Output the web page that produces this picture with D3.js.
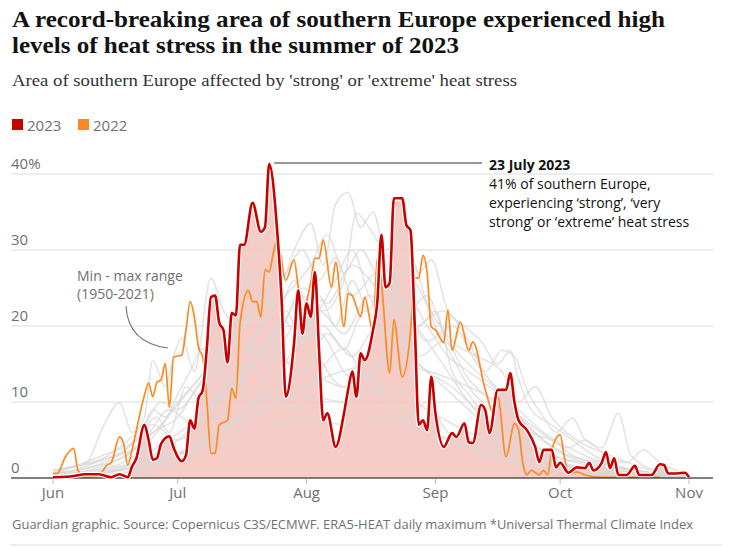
<!DOCTYPE html>
<html>
<head>
<meta charset="utf-8">
<script src="https://cdn.jsdelivr.net/npm/d3@7/dist/d3.min.js"></script>
<style>
  html, body { margin: 0; padding: 0; background: #fff; }
  svg { display: block; }
</style>
</head>
<body>
<svg id="chart" width="755" height="549"></svg>
<script>
// ---------- DATA (day offset from 1 June, % of southern Europe) ----------
const monthTicks = ["2023-06-01", "2023-07-01", "2023-08-01", "2023-09-01", "2023-10-01", "2023-11-01"];
const monthLabels = ["Jun", "Jul", "Aug", "Sep", "Oct", "Nov"];
const yTicks = [0, 10, 20, 30, 40];
const yTickLabels = ["0", "10", "20", "30", "40%"];

const days2023 = [0,4,8,11,14,16,18,19,20,22,23,24,25,26,28,29,31,32,33,34,35,36,37,38,39,40,41,42,43,44,45,46,48,50,51,52,54,55,56,58,59,60,61,62,63,64,65,66,68,70,71,72,73,74,75,77,78,79,80,81,82,84,85,86,87,88,89,90,91,92,94,96,97,99,100,101,103,104,105,107,109,110,111,112,114,116,117,118,120,121,122,124,126,128,129,130,132,133,134,135,136,138,140,141,144,146,147,148,150,152,153];
const values2023 = [0.1,0.2,0.5,0.5,0.1,0.5,0.1,1.5,2.5,7,5,2.4,2.6,4.5,5.5,4,2.2,3,7.6,6.5,10.5,11.5,17,23.8,24,20.4,19.5,15.2,21.7,21.4,30.7,30.7,36.2,32.4,33,41.3,32,23.4,10.7,17.8,24.7,19,23,21.2,27.1,16.8,7.6,8.5,4.1,8.5,11.6,14,10.7,16.4,15.5,19.5,23,32,25.1,25.7,36.8,36.8,33.3,32.6,20.4,7,7.6,6.3,13.3,8.5,4.1,5.9,5.4,7.2,4.7,4.6,9.6,8.9,5.9,11.6,11.6,13.8,10,7.6,6.3,4.1,2.1,3.7,3.7,1.4,2,0.7,1.4,1.3,2,1,2,3.4,1.3,2.6,0.4,0.4,1.6,0.4,0.4,1.8,1.7,0.6,0.6,0.7,0.1];

const days2022 = [0,1,3,5,6,8,10,11,13,14,16,17,18,19,22,23,24,25,26,27,28,29,31,32,33,34,35,36,37,38,39,40,42,43,44,45,47,48,49,50,51,52,53,54,56,58,59,60,62,63,64,65,67,68,70,71,72,73,74,75,77,78,79,81,82,84,86,87,88,89,90,91,92,94,95,96,98,100,101,104,106,107,109,111,112,113,114,115,117,118,119,120,122,123,124,126,128,132,140,146];
const values2022 = [0.6,0.6,2.8,3.9,1,0.1,0.2,0.3,1.7,2,5.4,4.5,1.7,3.7,10.9,12.5,10.7,12.6,12.9,15.1,9.3,15.9,16.2,19.5,23.2,21.2,17.2,15.9,10.3,3.2,3.3,7,7.6,11.8,10.5,20.4,24.7,23.2,23.2,21.2,27.4,27.1,29.6,31.3,26,28.7,25.1,22.1,25.7,28.9,28.9,31.3,25.1,28.4,19.9,24.3,24,22.5,21.2,23.8,19.2,28.9,25.7,13.8,20.8,13.3,19.2,26.3,26.3,29.3,27,19.9,19.5,17.8,22.1,16.8,20.5,16.8,17.9,11.6,8.5,10.7,2.8,7.2,6.3,2,0.4,1,0.4,1,0.4,3.7,5.7,2.8,0.6,0.8,0.4,0.1,0.1,0.1];

// Historic years 1950-2021 (a selection of the grey lines), [day, value]
const historicYears = [
  [[0,1],[8,2],[12,6.7],[16,9.9],[19,6],[22,8],[24,15.5],[27,12],[29,16],[31,18.4],[34,14],[38,26.3],[41,22],[45,20],[50,24],[55,18],[60,22],[65,15],[70,12],[75,14],[80,10],[85,8],[90,10],[95,6],[100,5],[105,4],[110,3],[115,2],[120,1.5],[130,1],[140,0.5],[153,0.3]],
  [[0,0.5],[10,1],[20,3],[25,6],[30,10],[35,13],[40,17],[45,24],[50,31],[55,26],[58,30],[62,33.5],[65,28],[68,36],[71,37.6],[74,33],[77,35],[80,28],[85,22],[90,18],[95,14],[100,10],[105,7],[110,4],[115,3],[120,2],[130,1],[153,0.2]],
  [[0,0.2],[20,2],[30,5],[40,10],[50,16],[55,20],[60,24],[65,22],[70,26],[73,34.8],[76,33],[80,30],[84,31.7],[88,27],[91,28.7],[95,22],[99,20],[103,18],[107,15],[110,16.8],[112,13],[115,9],[120,7],[125,5],[130,3],[140,1],[153,0.2]],
  [[0,0.2],[30,3],[40,6],[50,10],[60,14],[70,12],[80,16],[88,20],[94,22],[100,18],[104,14],[108,16.8],[111,16],[114,11.6],[118,8],[121,6],[125,7.9],[128,5],[132,4],[136,8.5],[139,3],[145,1],[153,0.2]],
  [[0,0.5],[10,2],[16,4],[22,7],[26,10],[30,9],[35,12],[40,15],[45,18],[50,16],[55,21],[60,18],[65,20],[70,17],[75,22],[80,19],[85,24],[90,20],[95,16],[100,14],[105,12],[110,10],[115,6],[120,5],[125,3],[130,2],[140,1],[153,0]],
  [[0,0.2],[20,2],[40,5],[60,12],[80,15],[100,12],[110,9],[115,7],[120,5],[124,4],[128,5],[133,3],[138,2],[142,3.7],[146,2],[150,1],[153,0.5]],
  [[0,0.8],[5,1.5],[10,2],[15,3],[18,4],[21,5.5],[24,9],[27,8],[30,11],[33,14],[36,17],[39,15],[42,19],[46,25],[50,27],[54,22],[58,26],[62,21],[66,18],[70,14],[75,12],[80,11],[85,9],[90,7],[95,5],[100,4],[110,2],[120,1],[153,0]],
  [[0,0],[20,1],[30,3],[40,6],[50,9],[60,11],[70,10],[80,12],[90,9],[100,6],[110,4],[120,2],[130,1],[153,0]],
  [[0,0],[20,1.5],[35,5],[45,12],[52,18],[56,15],[62,20],[68,26],[72,30],[76,24],[80,21],[84,27],[88,25],[92,20],[96,16],[100,12],[105,9],[110,6],[118,3],[130,1],[153,0]],
  [[0,0.5],[12,3],[20,5],[25,8],[28,6],[32,12],[36,10],[40,14],[44,12],[48,18],[52,15],[56,22],[60,18],[64,24],[68,20],[72,26],[76,22],[80,29.5],[83,25],[88,20],[92,22],[96,14],[100,11],[104,8],[110,5],[116,4],[120,3],[126,2],[135,1],[153,0]],
  [[0,0.3],[15,1],[25,4],[35,8],[42,12],[48,10],[54,16],[60,14],[66,19],[72,16],[78,20],[84,17],[90,14],[96,12],[102,9],[108,7],[114,5],[120,3],[128,2],[136,1],[153,0]],
  [[0,0],[20,0.5],[30,2],[40,4],[50,6],[60,8],[70,7],[80,8],[90,6],[100,4],[110,2.5],[120,1.5],[130,0.5],[153,0]],
  [[0,0.5],[10,1.5],[18,3],[24,6],[30,8],[36,13],[42,16],[48,21],[54,19],[60,25],[66,23],[72,28],[78,25],[84,23],[90,18],[96,20],[102,15],[108,11],[114,7],[120,4],[128,2],[140,1],[153,0]],
  [[0,0.3],[14,2],[22,5],[28,9],[34,7],[40,11],[46,15],[52,13],[58,17],[64,22],[70,19],[76,24],[82,21],[88,16],[94,18],[100,13],[106,10],[112,8],[118,5],[124,3],[132,2],[142,0.5],[153,0]],
  [[0,1],[12,2.5],[20,4],[26,7],[32,11],[38,15],[44,19],[50,22],[56,27],[60,30],[64,26],[68,29],[72,24],[78,27],[84,21],[90,24],[94,19],[100,15],[106,12],[112,9],[118,6],[124,4],[130,2.5],[140,1],[153,0]],
  [[0,0],[24,2],[34,4],[44,8],[52,11],[58,9],[64,14],[70,17],[76,13],[82,18],[88,15],[94,12],[100,9],[108,5],[116,3],[126,1.5],[153,0]],
  [[0,0.5],[16,3],[24,7],[30,5],[38,9],[44,13],[50,20],[56,24],[62,28],[66,32],[70,27],[74,30],[80,25],[86,29],[90,23],[96,18],[102,16],[108,14],[112,10],[116,12],[120,8],[126,5],[134,3],[144,1],[153,0]]
];

const legendLabels = ["2023", "2022"];
const legendColors = ["#c70000", "#fb8a22"];

// ---------- CHART ----------
const svg = d3.select("#chart");
const W = 755, H = 549;
svg.append("rect").attr("width", W).attr("height", H).attr("fill", "#fff");

const start = d3.timeParse("%Y-%m-%d")("2023-06-01");
const toDate = d => d3.timeDay.offset(start, d);

const x = d3.scaleTime()
  .domain([start, d3.timeParse("%Y-%m-%d")("2023-11-01")])
  .range([53, 689]);
const y = d3.scaleLinear().domain([0, 40]).range([478, 174]);

const sans = "'Open Sans', 'Noto Sans', sans-serif";
const serif = "'Liberation Serif', 'DejaVu Serif', serif";

// Title
const title = svg.append("g").attr("font-family", serif).attr("font-weight", "bold")
  .attr("font-size", 24).attr("fill", "#121212");
title.append("text").attr("x", 12).attr("y", 27)
  .attr("textLength", 653).attr("lengthAdjust", "spacingAndGlyphs")
  .text("A record-breaking area of southern Europe experienced high");
title.append("text").attr("x", 12).attr("y", 53)
  .attr("textLength", 447).attr("lengthAdjust", "spacingAndGlyphs")
  .text("levels of heat stress in the summer of 2023");

svg.append("text").attr("x", 12).attr("y", 86)
  .attr("font-family", serif).attr("font-size", 17).attr("fill", "#333")
  .attr("textLength", 505).attr("lengthAdjust", "spacingAndGlyphs")
  .text("Area of southern Europe affected by 'strong' or 'extreme' heat stress");

// Legend
const leg = svg.append("g");
const legX = [12, 78];
legendLabels.forEach((l, i) => {
  leg.append("rect").attr("x", legX[i]).attr("y", 119).attr("width", 11).attr("height", 11)
    .attr("fill", legendColors[i]);
  leg.append("text").attr("x", legX[i] + 15).attr("y", 130.5)
    .attr("font-family", sans).attr("font-size", 15).attr("fill", "#707070").text(l);
});

// Grid
const grid = svg.append("g");
yTicks.forEach((t, i) => {
  grid.append("line").attr("x1", 11).attr("x2", 713).attr("y1", y(t)).attr("y2", y(t))
    .attr("stroke", "#dcdcdc").attr("stroke-width", 1);
  grid.append("text").attr("x", 11).attr("y", y(t) - 5)
    .attr("font-family", sans).attr("font-size", 15).attr("fill", "#707070")
    .text(yTickLabels[i]);
});

// Area under 2023
const area = d3.area()
  .x(d => x(toDate(d[0]))).y0(y(0)).y1(d => y(d[1]))
  .curve(d3.curveMonotoneX);
const line = d3.line()
  .x(d => x(toDate(d[0]))).y(d => y(d[1]))
  .curve(d3.curveMonotoneX);

const s2023 = days2023.map((d, i) => [d, values2023[i]]);
const s2022 = days2022.map((d, i) => [d, values2022[i]]);

svg.append("path").datum(s2023).attr("d", area)
  .attr("fill", "#f3c3bc").attr("opacity", 0.85);

// Historic grey lines
svg.append("g").selectAll("path").data(historicYears).join("path")
  .attr("d", line).attr("fill", "none")
  .attr("stroke", "#d9d9d9").attr("stroke-width", 1.6).attr("opacity", 0.7);

// 2022
svg.append("path").datum(s2022).attr("d", line)
  .attr("fill", "none").attr("stroke", "#fb8a22").attr("stroke-width", 1.7);

// Baseline
svg.append("line").attr("x1", 11).attr("x2", 713).attr("y1", y(0)).attr("y2", y(0))
  .attr("stroke", "#121212").attr("stroke-width", 1.2);

// 2023 with halo
svg.append("path").datum(s2023).attr("d", line)
  .attr("fill", "none").attr("stroke", "#fff").attr("stroke-width", 4.8)
  .attr("stroke-linejoin", "round");
svg.append("path").datum(s2023).attr("d", line)
  .attr("fill", "none").attr("stroke", "#c70000").attr("stroke-width", 2.6)
  .attr("stroke-linejoin", "round");

// X axis
const xAxis = svg.append("g").attr("transform", `translate(0,${y(0)})`);
const tickDates = monthTicks.map(d3.timeParse("%Y-%m-%d"));
tickDates.forEach((d, i) => {
  xAxis.append("line").attr("x1", x(d)).attr("x2", x(d)).attr("y1", 1).attr("y2", 6)
    .attr("stroke", "#bbbbbb");
  xAxis.append("text").attr("x", x(d)).attr("y", 20).attr("text-anchor", "middle")
    .attr("font-family", sans).attr("font-size", 15).attr("fill", "#707070")
    .text(monthLabels[i]);
});

// Peak annotation
const peakDay = days2023[values2023.indexOf(d3.max(values2023))];
const peakX = x(toDate(peakDay));
svg.append("line").attr("x1", peakX + 5).attr("x2", 482).attr("y1", 163).attr("y2", 163)
  .attr("stroke", "#333").attr("stroke-width", 1.2);
const ann = svg.append("g").attr("font-family", sans).attr("font-size", 14).attr("fill", "#121212");
ann.append("text").attr("x", 489).attr("y", 170).attr("font-weight", "bold").text("23 July 2023");
["41% of southern Europe,", "experiencing \u2018strong\u2019, \u2018very", "strong\u2019 or \u2018extreme\u2019 heat stress"]
  .forEach((t, i) => ann.append("text").attr("x", 489).attr("y", 189 + i * 19).text(t));

// Min-max annotation
const mm = svg.append("g").attr("font-family", sans).attr("font-size", 14).attr("fill", "#707070");
mm.append("text").attr("x", 77).attr("y", 281).text("Min - max range");
mm.append("text").attr("x", 77).attr("y", 299).text("(1950-2021)");
svg.append("path").attr("d", "M126,306 Q128,343 168,348")
  .attr("fill", "none").attr("stroke", "#707070").attr("stroke-width", 1.1);

// Footer
svg.append("text").attr("x", 12).attr("y", 529)
  .attr("font-family", sans).attr("font-size", 13).attr("fill", "#707070")
  .attr("textLength", 681).attr("lengthAdjust", "spacingAndGlyphs")
  .text("Guardian graphic. Source: Copernicus C3S/ECMWF. ERA5-HEAT daily maximum *Universal Thermal Climate Index");
svg.append("line").attr("x1", 11).attr("x2", 722).attr("y1", 545).attr("y2", 545)
  .attr("stroke", "#dcdcdc");
</script>
</body>
</html>
